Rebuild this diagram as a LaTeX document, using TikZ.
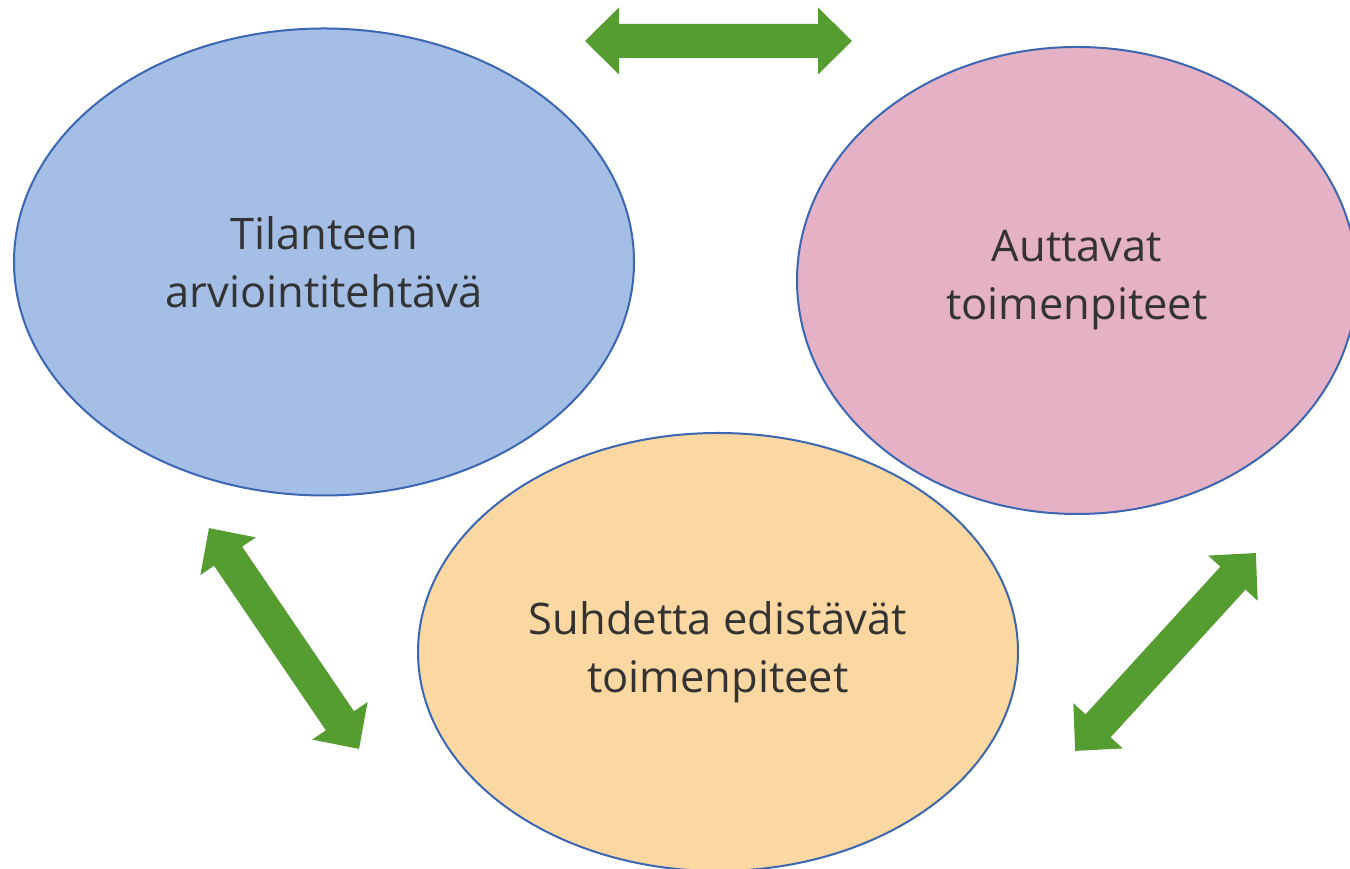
\documentclass[tikz,border=0pt]{standalone}
\usepackage{fontspec}
\setmainfont{Open Sans}
\definecolor{bluefill}{HTML}{A5BEE5}
\definecolor{pinkfill}{HTML}{E5B1C4}
\definecolor{orangefill}{HTML}{FBD8A2}
\definecolor{edge}{HTML}{3A66B2}
\definecolor{arrowgreen}{HTML}{559D30}
\definecolor{txt}{HTML}{333333}
\tikzset{
  blob/.style={ellipse, draw=edge, line width=2pt, inner sep=0pt, align=center,
    text=txt, font=\fontsize{43.5}{58}\selectfont},
  bigarrow/.style={fill=arrowgreen, draw=none},
}
\newcommand{\dblarrowshape}[3]{%
  \begin{scope}[shift={#1}, rotate=#2]
    \fill[bigarrow] (-#3/2,0) -- (-#3/2+34,33.5) -- (-#3/2+34,17) -- (#3/2-34,17)
      -- (#3/2-34,33.5) -- (#3/2,0) -- (#3/2-34,-33.5) -- (#3/2-34,-17)
      -- (-#3/2+34,-17) -- (-#3/2+34,-33.5) -- cycle;
  \end{scope}}
\usetikzlibrary{shapes.geometric}
\begin{document}
\begin{tikzpicture}[x=1pt,y=1pt]
\useasboundingbox (0,0) rectangle (1350,869);
\clip (0,0) rectangle (1350,869);
\node[blob, fill=bluefill, minimum width=620, minimum height=467] (tila) at (324,607)
  {Tilanteen\\arviointitehtävä};
\node[blob, fill=pinkfill, minimum width=560, minimum height=467] (autt) at (1077,588.5)
  {Auttavat\\toimenpiteet};
\node[blob, fill=orangefill, minimum width=600, minimum height=438] (suhd) at (718,217)
  {Suhdetta edistävät\\toimenpiteet};
\dblarrowshape{(718.5,828)}{0}{267}
\dblarrowshape{(284,230.5)}{-55.8}{267}
\dblarrowshape{(1165.5,217)}{47.6}{268}
\end{tikzpicture}
\end{document}
